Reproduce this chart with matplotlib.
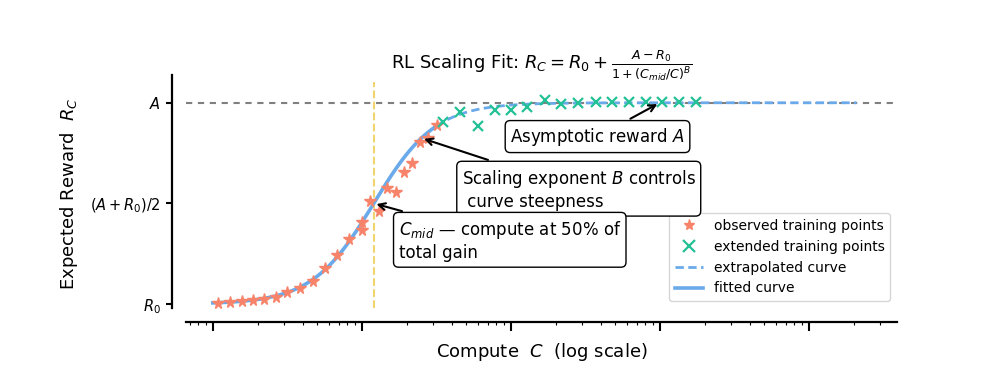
import numpy as np
import matplotlib
matplotlib.use("Agg")
import matplotlib.pyplot as plt
from matplotlib.lines import Line2D
from matplotlib.ticker import LogLocator, NullFormatter

# ---- data (log10 of compute, normalized reward: R0 = 0, A = 1) ----
obs_log10C = [0.037, 0.115, 0.194, 0.272, 0.346, 0.424, 0.500, 0.585, 0.670,
              0.751, 0.832, 0.916, 0.999, 1.003, 1.055, 1.115, 1.171, 1.228,
              1.284, 1.339, 1.391, 1.446, 1.503]
obs_R = [0.006, 0.008, 0.015, 0.018, 0.026, 0.036, 0.061, 0.078, 0.113,
         0.177, 0.243, 0.321, 0.409, 0.368, 0.513, 0.463, 0.575, 0.558,
         0.657, 0.702, 0.806, 0.823, 0.889]
ext_log10C = [1.547, 1.662, 1.780, 1.894, 2.001, 2.112, 2.228, 2.339, 2.453,
              2.570, 2.681, 2.793, 2.905, 3.017, 3.131, 3.243]
ext_R = [0.906, 0.955, 0.887, 0.964, 0.966, 0.980, 1.012, 0.996, 1.000,
         1.004, 1.003, 1.003, 1.003, 1.003, 1.003, 1.003]

# fitted parameters
R0 = 0.0
A = 1.0
log10_Cmid = 1.08
B = 2.1
fit_log10_range = (0.0, 1.5)
extrap_log10_range = (1.5, 4.32)

ytick_labels = [r"$R_0$", r"$(A+R_0)/2$", r"$A$"]

c_star = "#F7846A"
c_x = "#22C196"
c_curve = "#6AA9EA"
c_vline = "#F0D46E"


def model(C):
    Cmid = 10 ** log10_Cmid
    return R0 + (A - R0) / (1 + (Cmid / C) ** B)


fig = plt.figure(figsize=(10, 3.75), dpi=100)
ax = fig.add_axes([0.186, 1 - 308 / 375, 0.711, (308 - 75) / 375])
ax.set_xscale("log")

Cfit = np.logspace(*fit_log10_range, 200)
Cext = np.logspace(*extrap_log10_range, 300)
Cmid = 10 ** log10_Cmid

ax.axhline(A, color="#808080", lw=1.5, ls=(0, (3, 2.7)), zorder=1)
ax.axvline(Cmid, ymin=0.0, ymax=0.97, color=c_vline, lw=1.5, ls="--", zorder=1)

ext_line, = ax.plot(Cext, model(Cext), color=c_curve, lw=2, ls=(0, (3, 1.6)), zorder=2)
fit_line, = ax.plot(Cfit, model(Cfit), color=c_curve, lw=2.6, zorder=3)
obs_pts, = ax.plot(10 ** np.array(obs_log10C), obs_R, ls="none", marker="*",
                   ms=8.5, color=c_star, zorder=4)
ext_pts, = ax.plot(10 ** np.array(ext_log10C), ext_R, ls="none", marker="x",
                   ms=7, mew=1.6, color=c_x, zorder=4)

ax.set_xlim(10 ** -0.18, 10 ** 4.592)
ax.set_ylim(-0.02, 1.138)

ax.set_yticks([R0, (A + R0) / 2, A])
ax.set_yticklabels(ytick_labels)
ax.xaxis.set_major_locator(LogLocator(base=10, numticks=20))
ax.xaxis.set_minor_locator(LogLocator(base=10, subs=np.arange(2, 10), numticks=20))
ax.xaxis.set_major_formatter(NullFormatter())
ax.xaxis.set_minor_formatter(NullFormatter())
ax.tick_params(axis="x", which="major", length=6.5, width=1.5)
ax.tick_params(axis="x", which="minor", length=2.5, width=0.8)
ax.tick_params(axis="y", which="major", length=4.5, width=1.5, labelsize=10.5)

for s in ["top", "right"]:
    ax.spines[s].set_visible(False)
for s in ["left", "bottom"]:
    ax.spines[s].set_position(("outward", 10))
    ax.spines[s].set_linewidth(1.6)

ax.set_xlabel(r"Compute  $C$  (log scale)", fontsize=13)
ax.set_ylabel(r"Expected Reward  $R_C$", fontsize=13)
ax.yaxis.set_label_coords(-0.149, 0.49)
ax.set_title(r"RL Scaling Fit: $R_C = R_0 + \frac{A - R_0}{1 + (C_{mid}/C)^B}$",
             fontsize=13, y=1.017, pad=1)

bbox = dict(boxstyle="round,pad=0.3", fc="white", ec="black", lw=1)
arrow = dict(arrowstyle="->", color="black", lw=1.5)

ax.annotate(r"Asymptotic reward $A$", xy=(10 ** 3.0, A),
            xytext=(10 ** 2.582, 0.832), fontsize=12, ha="center", va="center",
            bbox=bbox, arrowprops=arrow, zorder=6)
ax.annotate("Scaling exponent $B$ controls\n curve steepness",
            xy=(10 ** 1.40, model(10 ** 1.40)),
            xytext=(10 ** 2.456, 0.568), fontsize=12, ha="center", va="center",
            multialignment="left", bbox=bbox, arrowprops=arrow, zorder=6)
ax.annotate("$C_{mid}$ — compute at 50% of\ntotal gain",
            xy=(Cmid, (A + R0) / 2),
            xytext=(10 ** 1.993, 0.314), fontsize=12, ha="center", va="center",
            multialignment="left", bbox=bbox, arrowprops=arrow, zorder=6)

handles = [
    Line2D([], [], ls="none", marker="*", ms=8, color=c_star),
    Line2D([], [], ls="none", marker="x", ms=8, mew=1.6, color=c_x),
    Line2D([], [], color=c_curve, lw=2, ls=(0, (3, 1.6))),
    Line2D([], [], color=c_curve, lw=2.6),
]
labels = ["observed training points", "extended training points",
          "extrapolated curve", "fitted curve"]
ax.legend(handles, labels, loc="lower right", fontsize=10, framealpha=0.8)

fig.savefig("out.png", dpi=100)
